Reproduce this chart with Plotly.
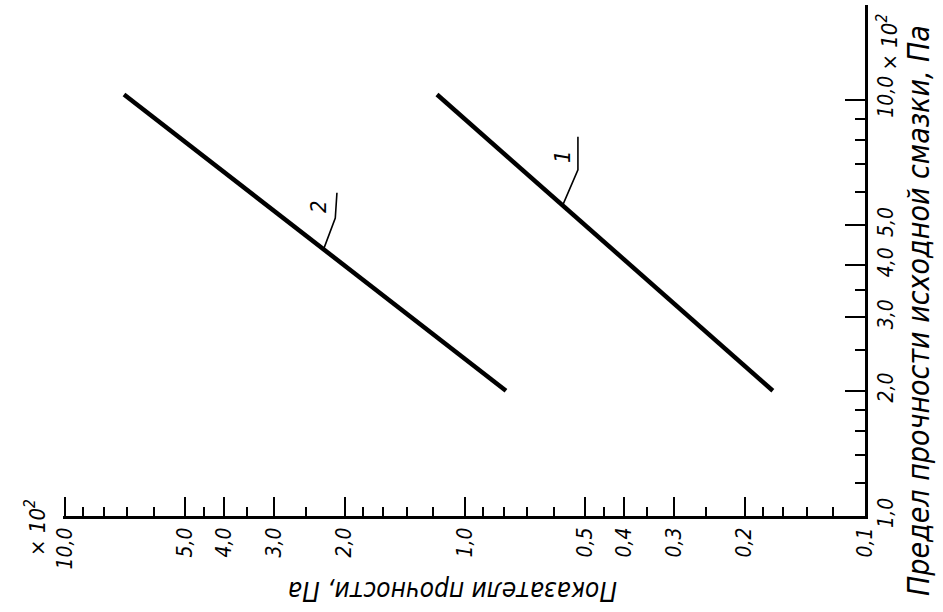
import math
import plotly.graph_objects as go

# ---- data ----
# x: "Показатели прочности" (×10² Па), y: "Предел прочности исходной смазки" (×10² Па)
line1_x = [0.170, 1.175]
line1_y = [2.0, 10.3]
line2_x = [0.79, 7.12]
line2_y = [2.0, 10.3]

# leader lines for curve labels
leader1_x = [0.569, 0.522, 0.522]
leader1_y = [5.6, 6.79, 8.15]
leader2_x = [2.26, 2.11, 2.09]
leader2_y = [4.36, 5.2, 5.98]

x_tickvals = [0.1, 0.2, 0.3, 0.4, 0.5, 1.0, 2.0, 3.0, 4.0, 5.0, 10.0]
x_ticktext = ["0,1", "0,2", "0,3", "0,4", "0,5", "1,0", "2,0", "3,0", "4,0", "5,0", "10,0"]
x_minor = [0.12, 0.14, 0.16, 0.18, 0.25, 0.35, 0.45, 0.6, 0.7, 0.8, 0.9,
           1.2, 1.4, 1.6, 1.8, 2.5, 3.5, 4.5, 6, 7, 8, 9]

y_tickvals = [1.0, 2.0, 3.0, 4.0, 5.0, 10.0]
y_ticktext = ["1,0", "2,0", "3,0", "4,0", "5,0", "10,0"]
y_minor = [1.2, 1.4, 1.6, 1.8, 2.5, 3.5, 6, 7, 8, 9]

FONT = "DejaVu Sans Condensed, Liberation Sans Narrow, Liberation Sans, sans-serif"

fig = go.Figure()
for xs, ys, w in [(line1_x, line1_y, 4.5), (line2_x, line2_y, 4.5),
                  (leader1_x, leader1_y, 1.6), (leader2_x, leader2_y, 1.6)]:
    fig.add_trace(go.Scatter(x=xs, y=ys, mode="lines",
                             line=dict(color="black", width=w),
                             hoverinfo="skip", showlegend=False))

tickfont = dict(family=FONT, size=21, color="black", style="italic")

fig.update_layout(
    width=943, height=612,
    margin=dict(l=63, r=78, t=5, b=96),
    paper_bgcolor="white", plot_bgcolor="white",
    showlegend=False,
    xaxis=dict(
        type="log", range=[1.005, -1.0], side="bottom", automargin=False,
        showgrid=False, zeroline=False,
        showline=True, linecolor="black", linewidth=3,
        ticks="inside", ticklen=19, tickwidth=2, tickcolor="black",
        tickmode="array", tickvals=x_tickvals, ticktext=x_ticktext,
        tickangle=-90, tickfont=tickfont, ticklabelstandoff=0,
        minor=dict(tickmode="array", tickvals=x_minor, ticks="inside",
                   ticklen=9, tickwidth=2, tickcolor="black", showgrid=False),
    ),
    yaxis=dict(
        type="log", range=[0.0, 1.228], side="right", automargin=False,
        showgrid=False, zeroline=False,
        showline=True, linecolor="black", linewidth=3,
        ticks="inside", ticklen=20, tickwidth=2, tickcolor="black",
        tickmode="array", tickvals=y_tickvals, ticktext=y_ticktext,
        tickangle=-90, tickfont=tickfont, ticklabelstandoff=0,
        minor=dict(tickmode="array", tickvals=y_minor, ticks="inside",
                   ticklen=10, tickwidth=2, tickcolor="black", showgrid=False),
    ),
)

ann_font = dict(family=FONT, size=22, color="black", style="italic")

fig.add_annotation(text="Показатели прочности, Па", xref="paper", yref="paper",
                   x=0.485, y=-0.147, xanchor="center", yanchor="middle",
                   showarrow=False, textangle=180,
                   font=dict(family=FONT, size=26, color="black", style="italic"))
fig.add_annotation(text="Предел прочности исходной смазки, Па", xref="paper", yref="paper",
                   x=1.066, y=0.403, xanchor="center", yanchor="middle",
                   showarrow=False, textangle=-90,
                   font=dict(family=FONT, size=30, color="black", style="italic"))
fig.add_annotation(text="× 10<sup>2</sup>", xref="paper", yref="y",
                   x=1.0274, y=1.14, xanchor="center", yanchor="middle",
                   showarrow=False, textangle=-90, font=ann_font)
fig.add_annotation(text="× 10<sup>2</sup>", xref="paper", yref="paper",
                   x=-0.034, y=-0.022, xanchor="center", yanchor="middle",
                   showarrow=False, textangle=-90, font=ann_font)
fig.add_annotation(text="2", xref="x", yref="y",
                   x=math.log10(leader2_x[2]) + 0.045, y=0.745,
                   xanchor="center", yanchor="middle",
                   showarrow=False, textangle=-90, font=ann_font)
fig.add_annotation(text="1", xref="x", yref="y",
                   x=math.log10(leader1_x[2]) + 0.04, y=0.865,
                   xanchor="center", yanchor="middle",
                   showarrow=False, textangle=-90, font=ann_font)

fig.write_html("out.html", config={"displayModeBar": False},
               post_script="document.body.style.margin='0';")
